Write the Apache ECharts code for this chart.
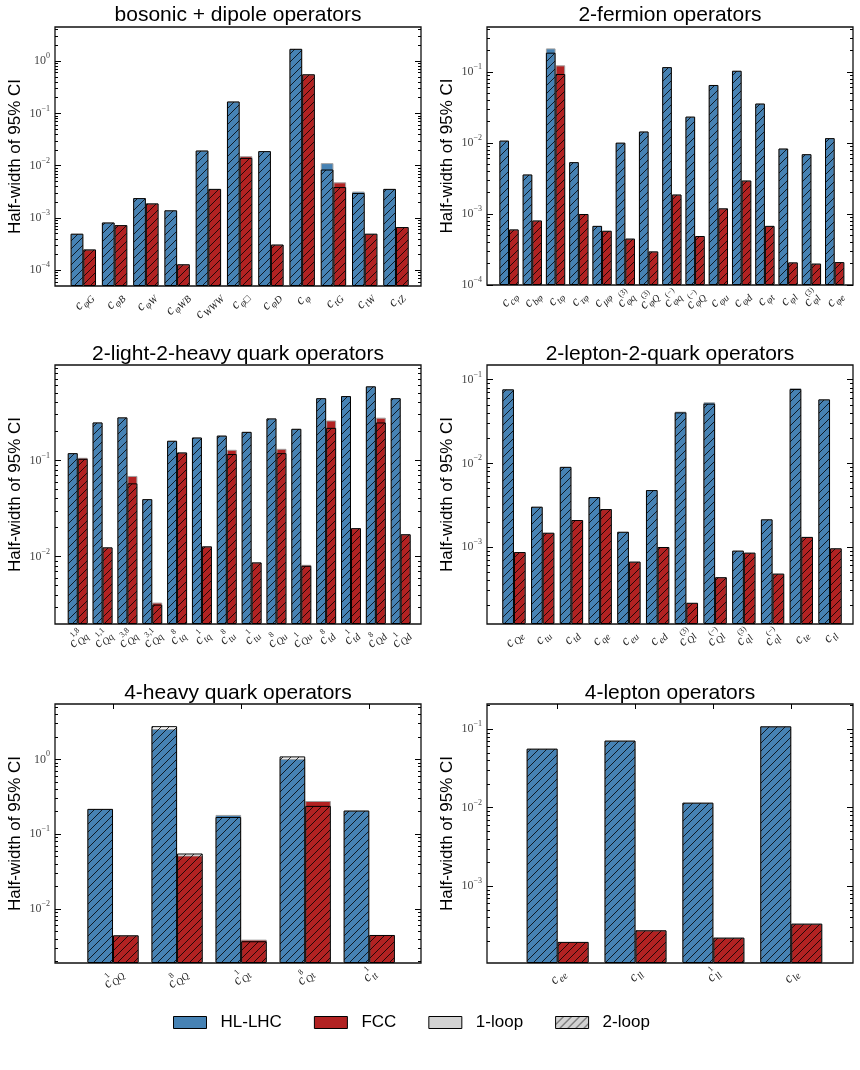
<!DOCTYPE html>
<html>
<head>
<meta charset="utf-8">
<script src="https://cdn.jsdelivr.net/npm/echarts@6/dist/echarts.min.js"></script>
<style>
  html, body { margin: 0; background: #fff; }
  #main { width: 860px; height: 1070px; }
</style>
</head>
<body>
<div id="main"></div>
<script>
var BLUE = "#4682b4";
var RED = "#b22222";
var SERIF = "'Liberation Serif', 'DejaVu Serif', serif";
var SANS = "'Liberation Sans', Arial, sans-serif";

// bosonic + dipole operators
var bosonicLabels = ["c_{φG}", "c_{φB}", "c_{φW}", "c_{φWB}", "c_{WWW}", "c_{φ□}", "c_{φD}", "c_{φ}", "c_{tG}", "c_{tW}", "c_{tZ}"];
var bosonicHL1 = [5.0e-4, 8.2e-4, 2.4e-3, 1.4e-3, 0.0195, 0.169, 0.019, 1.72, 0.0112, 3.2e-3, 3.6e-3];
var bosonicHL2 = [5.0e-4, 8.2e-4, 2.4e-3, 1.4e-3, 0.0195, 0.169, 0.019, 1.72, 8.45e-3, 3.0e-3, 3.6e-3];
var bosonicFCC1 = [2.5e-4, 7.3e-4, 1.9e-3, 1.3e-4, 3.6e-3, 0.0152, 3.1e-4, 0.56, 4.8e-3, 5.0e-4, 6.7e-4];
var bosonicFCC2 = [2.5e-4, 7.3e-4, 1.9e-3, 1.3e-4, 3.6e-3, 0.0141, 3.1e-4, 0.56, 3.9e-3, 5.0e-4, 6.7e-4];

// 2-fermion operators
var fermionLabels = ["c_{cφ}", "c_{bφ}", "c_{tφ}", "c_{τφ}", "c_{μφ}", "c^{(3)}_{φq}", "c^{(3)}_{φQ}", "c^{(−)}_{φq}", "c^{(−)}_{φQ}", "c_{φu}", "c_{φd}", "c_{φt}", "c_{φl}", "c^{(3)}_{φl}", "c_{φe}"];
var fermionHL1 = [0.0108, 3.6e-3, 0.215, 5.37e-3, 6.8e-4, 0.0101, 0.0145, 0.117, 0.0235, 0.0656, 0.104, 0.0359, 8.35e-3, 6.95e-3, 0.0117];
var fermionHL2 = [0.0108, 3.6e-3, 0.187, 5.37e-3, 6.8e-4, 0.0101, 0.0145, 0.117, 0.0235, 0.0656, 0.104, 0.0359, 8.35e-3, 6.95e-3, 0.0117];
var fermionFCC1 = [6.06e-4, 8.1e-4, 0.124, 1.0e-3, 5.8e-4, 4.5e-4, 2.97e-4, 1.88e-3, 4.9e-4, 1.2e-3, 2.96e-3, 6.8e-4, 2.08e-4, 2.0e-4, 2.1e-4];
var fermionFCC2 = [6.06e-4, 8.1e-4, 0.0937, 1.0e-3, 5.8e-4, 4.5e-4, 2.97e-4, 1.88e-3, 4.9e-4, 1.2e-3, 2.96e-3, 6.8e-4, 2.08e-4, 2.0e-4, 2.1e-4];

// 2-light-2-heavy quark operators
var lightHeavyLabels = ["c^{1,8}_{Qq}", "c^{1,1}_{Qq}", "c^{3,8}_{Qq}", "c^{3,1}_{Qq}", "c^{8}_{tq}", "c^{1}_{tq}", "c^{8}_{tu}", "c^{1}_{tu}", "c^{8}_{Qu}", "c^{1}_{Qu}", "c^{8}_{td}", "c^{1}_{td}", "c^{8}_{Qd}", "c^{1}_{Qd}"];
var lightHeavyHL1 = [0.119, 0.248, 0.28, 0.0396, 0.16, 0.173, 0.181, 0.198, 0.273, 0.213, 0.443, 0.466, 0.588, 0.443];
var lightHeavyHL2 = [0.119, 0.248, 0.28, 0.0396, 0.16, 0.173, 0.181, 0.198, 0.273, 0.213, 0.443, 0.466, 0.588, 0.443];
var lightHeavyFCC1 = [0.1066, 0.0125, 0.069, 3.34e-3, 0.121, 0.0128, 0.129, 8.72e-3, 0.132, 8.24e-3, 0.26, 0.0198, 0.278, 0.0171];
var lightHeavyFCC2 = [0.104, 0.0125, 0.0578, 3.18e-3, 0.121, 0.0128, 0.1165, 8.72e-3, 0.119, 8.05e-3, 0.218, 0.0198, 0.248, 0.0171];

// 2-lepton-2-quark operators
var leptoQuarkLabels = ["c_{Qe}", "c_{tu}", "c_{td}", "c_{qe}", "c_{eu}", "c_{ed}", "c^{(3)}_{Ql}", "c^{(−)}_{Ql}", "c^{(3)}_{ql}", "c^{(−)}_{ql}", "c_{te}", "c_{tl}"];
var leptoQuarkHL1 = [0.0767, 3.03e-3, 9.08e-3, 3.95e-3, 1.52e-3, 4.79e-3, 0.0415, 0.0537, 9.04e-4, 2.14e-3, 0.079, 0.0582];
var leptoQuarkHL2 = [0.0767, 3.03e-3, 9.08e-3, 3.95e-3, 1.52e-3, 4.79e-3, 0.0407, 0.0518, 9.04e-4, 2.14e-3, 0.0774, 0.0582];
var leptoQuarkFCC1 = [8.7e-4, 1.48e-3, 2.1e-3, 2.84e-3, 6.68e-4, 1.0e-3, 2.15e-4, 4.35e-4, 8.55e-4, 4.8e-4, 1.32e-3, 9.64e-4];
var leptoQuarkFCC2 = [8.7e-4, 1.48e-3, 2.1e-3, 2.84e-3, 6.68e-4, 1.0e-3, 2.15e-4, 4.35e-4, 8.55e-4, 4.8e-4, 1.32e-3, 9.64e-4];

// 4-heavy quark operators
var heavyLabels = ["c^{1}_{QQ}", "c^{8}_{QQ}", "c^{1}_{Qt}", "c^{8}_{Qt}", "c^{1}_{tt}"];
var heavyHL1 = [0.218, 2.56, 0.181, 1.02, 0.207];
var heavyHL2 = [0.218, 2.78, 0.170, 1.096, 0.207];
var heavyFCC1 = [4.45e-3, 0.052, 3.9e-3, 0.278, 4.5e-3];
var heavyFCC2 = [4.45e-3, 0.0552, 3.71e-3, 0.239, 4.5e-3];

// 4-lepton operators
var leptonLabels = ["c_{ee}", "c_{ll}", "c^{1}_{ll}", "c_{le}"];
var leptonHL1 = [0.0566, 0.0717, 0.0116, 0.109];
var leptonHL2 = [0.0566, 0.0717, 0.0116, 0.109];
var leptonFCC1 = [1.95e-4, 2.74e-4, 2.21e-4, 3.33e-4];
var leptonFCC2 = [1.95e-4, 2.74e-4, 2.21e-4, 3.33e-4];

// layout of each panel: frame box [left, top, right, bottom], inner band [left, right]
var panels = [
  { title: "bosonic + dipole operators", labels: bosonicLabels, hl1: bosonicHL1, hl2: bosonicHL2, fcc1: bosonicFCC1, fcc2: bosonicFCC2,
    frame: [55, 27, 421, 286], inner: [67.7, 411.6], barWidth: "40.6%", yMin: 5e-5, yMax: 4.5, titleY: 15, topTicks: false },
  { title: "2-fermion operators", labels: fermionLabels, hl1: fermionHL1, hl2: fermionHL2, fcc1: fermionFCC1, fcc2: fermionFCC2,
    frame: [487, 27, 853, 285], inner: [497.4, 846.3], barWidth: "41.5%", yMin: 1e-4, yMax: 0.43, titleY: 15, topTicks: false },
  { title: "2-light-2-heavy quark operators", labels: lightHeavyLabels, hl1: lightHeavyHL1, hl2: lightHeavyHL2, fcc1: lightHeavyFCC1, fcc2: lightHeavyFCC2,
    frame: [55, 365, 421, 624], inner: [65.3, 413.1], barWidth: "40.2%", yMin: 2e-3, yMax: 0.98, titleY: 354, topTicks: false },
  { title: "2-lepton-2-quark operators", labels: leptoQuarkLabels, hl1: leptoQuarkHL1, hl2: leptoQuarkHL2, fcc1: leptoQuarkFCC1, fcc2: leptoQuarkFCC2,
    frame: [487, 365, 853, 624], inner: [499.6, 844.4], barWidth: "40.6%", yMin: 1.2e-4, yMax: 0.15, titleY: 354, topTicks: false },
  { title: "4-heavy quark operators", labels: heavyLabels, hl1: heavyHL1, hl2: heavyHL2, fcc1: heavyFCC1, fcc2: heavyFCC2,
    frame: [55, 704, 421, 963], inner: [81, 401.3], barWidth: "40%", yMin: 1.9e-3, yMax: 5.5, titleY: 693, topTicks: true },
  { title: "4-lepton operators", labels: leptonLabels, hl1: leptonHL1, hl2: leptonHL2, fcc1: leptonFCC1, fcc2: leptonFCC2,
    frame: [487, 704, 853, 963], inner: [518.7, 830.2], barWidth: "39.8%", yMin: 1.05e-4, yMax: 0.21, titleY: 693, topTicks: true }
];

var LABEL_ROTATE = 45;
var FONT_B = "italic 14px " + SERIF;
var FONT_SUB = "italic 10px " + SERIF;
var FONT_SUP = "8px " + SERIF;

// small tile with "/" hatching, used as a repeating pattern fill
function hatchTile(bg) {
  var s = 8;
  var c = document.createElement("canvas");
  c.width = s;
  c.height = s;
  var g = c.getContext("2d");
  if (bg) {
    g.fillStyle = bg;
    g.fillRect(0, 0, s, s);
  }
  g.strokeStyle = "#000";
  g.lineWidth = 0.8;
  g.beginPath();
  g.moveTo(0, s); g.lineTo(s, 0);
  g.moveTo(-1, 1); g.lineTo(1, -1);
  g.moveTo(s - 1, s + 1); g.lineTo(s + 1, s - 1);
  g.stroke();
  return c;
}
var hatch = { image: hatchTile(null), repeat: "repeat" };
var hatchGray = { image: hatchTile("#d3d3d3"), repeat: "repeat" };

// "c^{sup}_{sub}" -> parts
function texParts(s) {
  var m = s.match(/^([^_^]+)(?:\^\{([^}]*)\})?(?:_\{([^}]*)\})?$/);
  return m ? { b: m[1], sup: m[2] || "", sub: m[3] || "" } : { b: s, sup: "", sub: "" };
}
function expLabel(v) {
  var k = Math.round(v);
  return "{b|10}{sup|" + (k < 0 ? "\u2212" + (-k) : k) + "}";
}
var expRich = {
  b: { fontFamily: SERIF, fontSize: 12, lineHeight: 12, color: "#444", verticalAlign: "bottom" },
  sup: { fontFamily: SERIF, fontSize: 8, lineHeight: 8, color: "#444", verticalAlign: "bottom", padding: [0, 0, 7, 0] }
};

var measureCtx = document.createElement("canvas").getContext("2d");
function textWidth(t, font) {
  measureCtx.font = font;
  return measureCtx.measureText(t).width;
}

// one operator label as a group: base letter, stacked super/subscript
function labelGroup(lab, x, y, rot) {
  var parts = texParts(lab);
  var wb = textWidth(parts.b, FONT_B);
  var ws = Math.max(textWidth(parts.sup, FONT_SUP), textWidth(parts.sub, FONT_SUB));
  var w = wb + ws;
  var x0 = -w / 2;
  var children = [
    { type: "text", x: x0, y: 0, style: { text: parts.b, font: FONT_B, fill: "#222", align: "left", verticalAlign: "middle" } }
  ];
  if (parts.sub) children.push({ type: "text", x: x0 + wb + 0.5, y: 4.5, style: { text: parts.sub, font: FONT_SUB, fill: "#222", align: "left", verticalAlign: "middle" } });
  if (parts.sup) children.push({ type: "text", x: x0 + wb + 0.5, y: -6.5, style: { text: parts.sup, font: FONT_SUP, fill: "#222", align: "left", verticalAlign: "middle" } });
  var half = (w / 2) * Math.sin(rot) + 8 * Math.cos(rot);
  return { type: "group", x: x, y: y + half, rotation: rot, silent: true, children: children };
}

var grid = [], xAxis = [], yAxis = [], series = [], titles = [], labelAxes = [];

panels.forEach(function (p, i) {
  var fl = p.frame[0], ft = p.frame[1], fr = p.frame[2], fb = p.frame[3];
  var lo = Math.log10(p.yMin), hi = Math.log10(p.yMax);
  var majors = [], minors = [];
  for (var k = Math.floor(lo); k <= Math.ceil(hi); k++) {
    if (k >= lo && k <= hi) majors.push(k);
    for (var m = 2; m <= 9; m++) {
      var t = k + Math.log10(m);
      if (t > lo && t < hi) minors.push(t);
    }
  }

  // frame grid: box, ticks and tick labels
  var frameGrid = grid.length;
  grid.push({ left: fl, top: ft, width: fr - fl, height: fb - ft, show: true, borderColor: "#111", borderWidth: 1.3, backgroundColor: "transparent" });
  // inner grid: the bars
  var innerGrid = grid.length;
  grid.push({ left: p.inner[0], top: ft, width: p.inner[1] - p.inner[0], height: fb - ft });

  xAxis.push({ gridIndex: frameGrid, type: "category", data: [""], show: false });
  [["left", true], ["left", false], ["right", true], ["right", false]].forEach(function (d) {
    var major = d[1];
    var ax = {
      gridIndex: frameGrid, type: "value", min: lo, max: hi, position: d[0],
      axisLine: { show: false, onZero: false },
      splitLine: { show: false },
      axisTick: { show: true, inside: true, length: major ? 6 : 3, customValues: major ? majors : minors, lineStyle: { color: "#000", width: 1 } },
      axisLabel: { show: false }
    };
    if (major && d[0] === "left") {
      ax.axisLabel = { show: true, customValues: majors, formatter: expLabel, margin: 5, rich: expRich };
      ax.name = "Half-width of 95% CI";
      ax.nameLocation = "middle";
      ax.nameGap = 31;
      ax.nameTextStyle = { fontFamily: SANS, fontSize: 17, color: "#000" };
    }
    yAxis.push(ax);
  });

  var xLoop1 = xAxis.length;
  xAxis.push({
    gridIndex: innerGrid, type: "category", data: p.labels, position: "bottom",
    axisLine: { show: false, onZero: false }, axisTick: { show: false }, axisLabel: { show: false }
  });
  var xLoop2 = xAxis.length;
  xAxis.push({
    gridIndex: innerGrid, type: "category", data: p.labels, position: "top",
    axisLine: { show: false, onZero: false }, axisLabel: { show: false },
    axisTick: { show: p.topTicks, inside: true, alignWithLabel: true, length: 5, lineStyle: { color: "#000" } }
  });
  var yInner = yAxis.length;
  yAxis.push({ gridIndex: innerGrid, type: "log", min: p.yMin, max: p.yMax, startValue: p.yMin, show: false });
  labelAxes.push(xLoop1);

  var oneLoopEdge = { borderColor: "#a0a0a0", borderWidth: 1 };
  series.push(
    { type: "bar", name: "HL-LHC", xAxisIndex: xLoop1, yAxisIndex: yInner, data: p.hl1, barWidth: p.barWidth, barGap: 0,
      itemStyle: Object.assign({ color: BLUE }, oneLoopEdge) },
    { type: "bar", name: "FCC", xAxisIndex: xLoop1, yAxisIndex: yInner, data: p.fcc1, barWidth: p.barWidth, barGap: 0,
      itemStyle: Object.assign({ color: RED }, oneLoopEdge) },
    { type: "bar", name: "HL-LHC 2-loop", xAxisIndex: xLoop2, yAxisIndex: yInner, data: p.hl2, barWidth: p.barWidth, barGap: 0,
      itemStyle: { color: hatch, borderColor: "#000", borderWidth: 1 } },
    { type: "bar", name: "FCC 2-loop", xAxisIndex: xLoop2, yAxisIndex: yInner, data: p.fcc2, barWidth: p.barWidth, barGap: 0,
      itemStyle: { color: hatch, borderColor: "#000", borderWidth: 1 } }
  );

  titles.push({
    type: "text", x: (fl + fr) / 2, y: p.titleY,
    style: { text: p.title, font: "21px " + SANS, fill: "#000", align: "center", verticalAlign: "middle" }
  });
});

// legend-only entries for the loop order
series.push(
  { type: "bar", name: "1-loop", xAxisIndex: 0, yAxisIndex: 0, data: [], itemStyle: { color: "#d3d3d3" } },
  { type: "bar", name: "2-loop", xAxisIndex: 0, yAxisIndex: 0, data: [], itemStyle: { color: hatchGray } }
);

var chart = echarts.init(document.getElementById("main"), null, { renderer: "canvas" });
chart.setOption({
  animation: false,
  backgroundColor: "#fff",
  grid: grid,
  xAxis: xAxis,
  yAxis: yAxis,
  series: series,
  legend: {
    left: 173, top: 1014, padding: 0, itemWidth: 33, itemHeight: 12, itemGap: 32, icon: "rect",
    textStyle: { fontFamily: SANS, fontSize: 17, color: "#000", padding: [0, 0, 0, 9] },
    data: [
      { name: "HL-LHC", itemStyle: { color: BLUE, borderColor: "#000", borderWidth: 1 } },
      { name: "FCC", itemStyle: { color: RED, borderColor: "#000", borderWidth: 1 } },
      { name: "1-loop", itemStyle: { color: "#d3d3d3", borderColor: "#000", borderWidth: 1 } },
      { name: "2-loop", itemStyle: { color: hatchGray, borderColor: "#000", borderWidth: 1 } }
    ]
  }
});

// rotated category labels, centred on each category as placed by the axis
// and hung just under the frame
var rot = LABEL_ROTATE * Math.PI / 180;
var labelGroups = [];
panels.forEach(function (p, i) {
  p.labels.forEach(function (lab, j) {
    var x = chart.convertToPixel({ xAxisIndex: labelAxes[i] }, j);
    labelGroups.push(labelGroup(lab, x, p.frame[3] + 3, rot));
  });
});
chart.setOption({ graphic: titles.concat(labelGroups) });
</script>
</body>
</html>
